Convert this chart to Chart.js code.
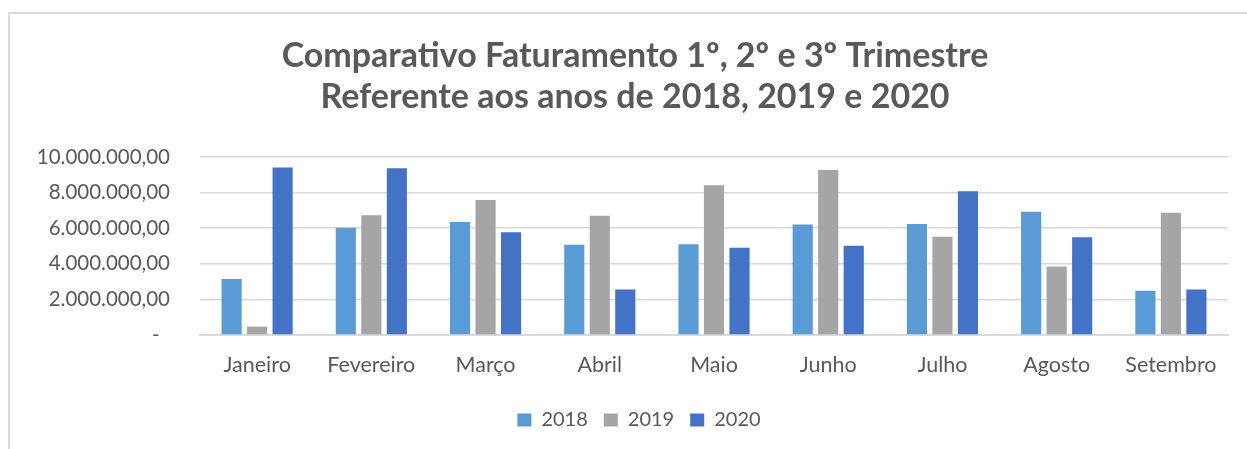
<!DOCTYPE html>
<html>
<head>
<meta charset="utf-8">
<script src="https://cdn.jsdelivr.net/npm/chart.js@4/dist/chart.umd.min.js"></script>
<style>
  html, body { margin: 0; padding: 0; background: #ffffff; }
  #wrap { position: relative; width: 1247px; height: 449px; overflow: hidden; }
  #frame { position: absolute; left: 8px; top: 12px; width: 1250px; height: 460px;
           border-top: 2px solid #D9D9D9; border-left: 2px solid #D9D9D9; box-sizing: border-box; }
  #c { position: absolute; left: 0; top: 0; }
</style>
</head>
<body>
<div id="wrap">
  <div id="frame"></div>
  <canvas id="c" width="1247" height="449"></canvas>
</div>
<script>
const titleLines = ["Comparativo Faturamento 1º, 2º e 3º Trimestre", "Referente aos anos de 2018, 2019 e 2020"];
const months = ["Janeiro", "Fevereiro", "Março", "Abril", "Maio", "Junho", "Julho", "Agosto", "Setembro"];
const seriesNames = ["2018", "2019", "2020"];
const values2018 = [3150000, 6020000, 6340000, 5070000, 5090000, 6200000, 6240000, 6920000, 2490000];
const values2019 = [470000, 6730000, 7580000, 6700000, 8410000, 9260000, 5520000, 3850000, 6860000];
const values2020 = [9410000, 9370000, 5770000, 2550000, 4900000, 5010000, 8070000, 5490000, 2550000];
const yTickValues = [0, 2000000, 4000000, 6000000, 8000000, 10000000];
const seriesColors = ["#5B9BD5", "#A5A5A5", "#4472C4"];

function fmtBR(v) {
  if (v === 0) return "-  ";
  const s = Math.round(v).toString().replace(/\B(?=(\d{3})+(?!\d))/g, ".");
  return s + ",00";
}

const textColor = "#595959";
const gridColor = "#D9D9D9";
const fontFamily = "Lato, 'Open Sans', sans-serif";

const shiftBlocks = {
  id: "shiftBlocks",
  afterLayout(chart) {
    if (chart.legend) { chart.legend.left += 25; chart.legend.right += 25; }
    if (chart.titleBlock) { chart.titleBlock.left += 21; chart.titleBlock.right += 21; }
  }
};

new Chart(document.getElementById("c"), {
  type: "bar",
  data: {
    labels: months,
    datasets: [
      { label: seriesNames[0], data: values2018, backgroundColor: seriesColors[0] },
      { label: seriesNames[1], data: values2019, backgroundColor: seriesColors[1] },
      { label: seriesNames[2], data: values2020, backgroundColor: seriesColors[2] }
    ]
  },
  plugins: [shiftBlocks],
  options: {
    responsive: false,
    animation: false,
    devicePixelRatio: 1,
    layout: { padding: { left: 0, right: 19, top: 0, bottom: 9 } },
    datasets: { bar: { categoryPercentage: 0.67, barPercentage: 0.79, borderWidth: 0 } },
    plugins: {
      title: {
        display: true,
        text: titleLines,
        color: textColor,
        font: { family: fontFamily, size: 34, weight: "bold", lineHeight: 1.19 },
        padding: { top: 36, bottom: 40 }
      },
      legend: {
        position: "bottom",
        labels: {
          color: textColor,
          font: { family: fontFamily, size: 20 },
          boxWidth: 14,
          boxHeight: 13,
          padding: 16
        }
      },
      tooltip: { enabled: false }
    },
    scales: {
      x: {
        grid: { display: false, drawTicks: false },
        border: { display: true, color: gridColor, width: 2 },
        ticks: { color: textColor, font: { family: fontFamily, size: 21.5 }, padding: 17, maxRotation: 0 },
        afterFit: (s) => { s.height = 59; }
      },
      y: {
        min: 0,
        max: 10000000,
        afterBuildTicks: (s) => { s.ticks = yTickValues.map(v => ({ value: v })); },
        grid: { color: gridColor, lineWidth: 1.5, drawTicks: false },
        border: { display: false },
        ticks: {
          color: textColor,
          font: { family: fontFamily, size: 20.5 },
          padding: 30,
          callback: (v) => fmtBR(v)
        },
        afterFit: (s) => { s.width = 200; }
      }
    }
  }
});
</script>
</body>
</html>
